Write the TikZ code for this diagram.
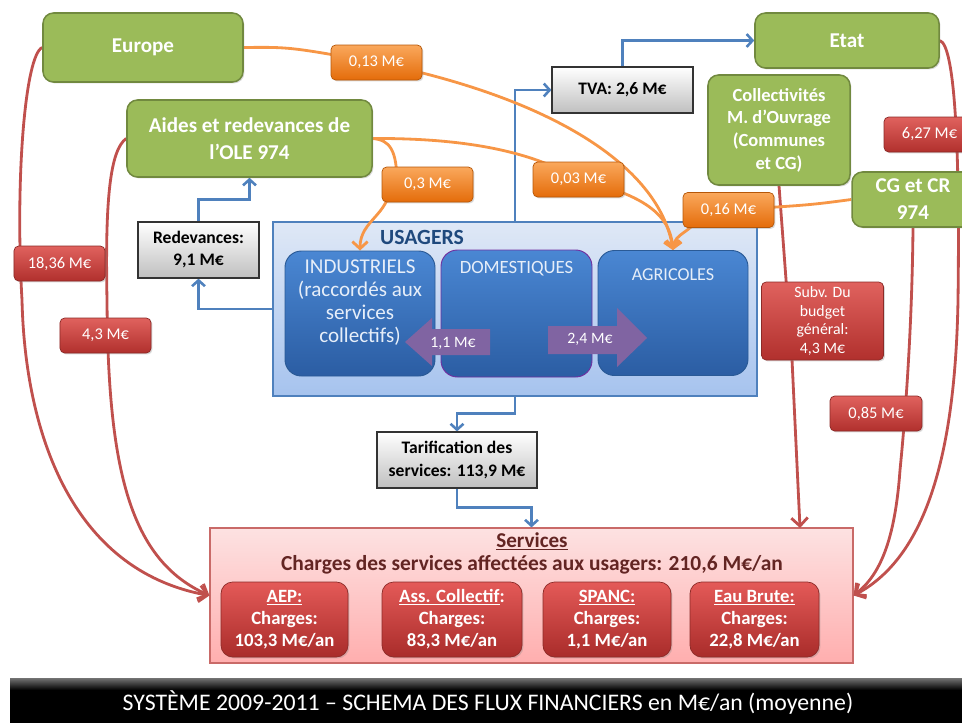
\documentclass[tikz,border=0pt]{standalone}
\usepackage{fontspec}
\setmainfont{Carlito}
\usetikzlibrary{arrows.meta,shadows}
\definecolor{vert}{HTML}{9BBB59}
\definecolor{vertbord}{HTML}{71893F}
\definecolor{orhaut}{HTML}{FAA85C}
\definecolor{orbas}{HTML}{E46C0A}
\definecolor{orbord}{HTML}{B65708}
\definecolor{rghaut}{HTML}{E0625E}
\definecolor{rgbas}{HTML}{B1302D}
\definecolor{rgbord}{HTML}{8C2B28}
\definecolor{srvhaut}{HTML}{E45A58}
\definecolor{srvbas}{HTML}{A92C2A}
\definecolor{fluxr}{HTML}{C0504D}
\definecolor{fluxo}{HTML}{F79646}
\definecolor{fluxb}{HTML}{4F81BD}
\definecolor{bleuhaut}{HTML}{4A87D3}
\definecolor{bleubas}{HTML}{2B5DA3}
\definecolor{bleubord}{HTML}{2A5A96}
\definecolor{bleutexte}{HTML}{E6EEF9}
\definecolor{violetf}{HTML}{8064A2}
\definecolor{violetbord}{HTML}{7030A0}
\definecolor{usghaut}{HTML}{DFE8F6}
\definecolor{usgbas}{HTML}{A6C3EE}
\definecolor{fondhaut}{HTML}{FDE2E2}
\definecolor{fondbas}{HTML}{FFAEAE}
\definecolor{titrebleu}{HTML}{1F497D}
\definecolor{titrerouge}{HTML}{632523}
\pgfdeclarelayer{fond}
\pgfdeclarelayer{liens}
\pgfsetlayers{fond,liens,main}
\begin{document}
\begin{tikzpicture}[x=0.03cm, y=-0.03cm,
  ombre/.style={drop shadow={opacity=0.3,shadow xshift=1.2pt,shadow yshift=-1.2pt}},
  vertbox/.style={ombre, draw=vertbord, line width=1.3pt, fill=vert, rounded corners=9pt, text=white, align=center, inner sep=0pt, font=\fontsize{18}{23}\selectfont\bfseries},
  orlbl/.style={ombre, draw=orbord, line width=0.6pt, top color=orhaut, bottom color=orbas, rounded corners=4pt, text=white, inner sep=0pt, minimum width=2.73cm, minimum height=1.05cm, font=\fontsize{14}{16}\selectfont},
  rglbl/.style={ombre, draw=rgbord, line width=0.6pt, top color=rghaut, bottom color=rgbas, rounded corners=4pt, text=white, align=center, inner sep=0pt, minimum width=2.73cm, minimum height=1.05cm, font=\fontsize{14}{16}\selectfont},
  grisbox/.style={ombre, draw=black!80, line width=1pt, top color=white, bottom color=black!25, align=center, inner sep=0pt, font=\fontsize{15}{18.8}\selectfont\bfseries},
  bleubox/.style={draw=bleubord, line width=0.8pt, top color=bleuhaut, bottom color=bleubas, rounded corners=14pt, minimum width=4.5cm, minimum height=3.75cm},
  srvbox/.style={ombre, draw=rgbord, line width=0.6pt, top color=srvhaut, bottom color=srvbas, rounded corners=10pt, text=white, align=center, inner sep=0pt, minimum height=2.25cm, font=\fontsize{16}{18.8}\selectfont\bfseries},
  fluxbleu/.style={draw=fluxb, line width=2.2pt, -{Straight Barb[length=5pt,width=11pt]}},
  fluxrouge/.style={draw=fluxr, line width=2.4pt, -{Straight Barb[length=7pt,width=14pt]}},
  fluxorange/.style={draw=fluxo, line width=2.4pt, -{Straight Barb[length=6pt,width=13pt]}}]
\useasboundingbox (0,0) rectangle (962,723);
\begin{pgfonlayer}{fond}
\node[draw=fluxb, line width=1pt, top color=usghaut, bottom color=usgbas, minimum width=14.52cm, minimum height=5.22cm, inner sep=0pt] (usagers) at (515,309) {};
\node[ombre, draw=fluxr!85, line width=1pt, top color=fondhaut, bottom color=fondbas, minimum width=19.29cm, minimum height=4.05cm, inner sep=0pt] (services) at (531.5,595.5) {};
\end{pgfonlayer}
\node[vertbox, minimum width=6cm, minimum height=2.07cm] (europe) at (143,47.5) {Europe};
\node[vertbox, minimum width=7.35cm, minimum height=2.31cm] (aides) at (249.5,138.5) {Aides et redevances de\\l’OLE 974};
\node[vertbox, minimum width=5.52cm, minimum height=1.65cm] (etat) at (847,40.5) {Etat};
\node[vertbox, minimum width=4.26cm, minimum height=3.3cm, font=\fontsize{15.8}{19.3}\selectfont\bfseries] (collect) at (779,130) {Collectivités\\M. d’Ouvrage\\(Communes\\et CG)};
\node[vertbox, minimum width=3.66cm, minimum height=1.65cm] (cgcr) at (913,199.5) {CG et CR\\974};
\node[orlbl] (o13) at (376.5,62.5) {0,13 M€};
\node[orlbl] (o3) at (427.5,184.5) {0,3 M€};
\node[orlbl] (o03) at (578.5,179.5) {0,03 M€};
\node[orlbl] (o16) at (728.5,210) {0,16 M€};
\node[grisbox, minimum width=4.23cm, minimum height=1.38cm] (tva) at (622.5,90) {TVA: 2,6 M€};
\node[grisbox, minimum width=3.63cm, minimum height=1.68cm] (redev) at (198.5,250) {Redevances:\\9,1 M€};
\node[grisbox, minimum width=4.8cm, minimum height=1.68cm] (tarif) at (457,460) {Tarification des\\services: 113,9 M€};
\node[font=\fontsize{18.5}{20}\selectfont\bfseries, text=titrebleu] (usgtitre) at (422,237) {USAGERS};
\node[bleubox] (indus) at (360,313.5) {};
\node[bleubox, draw=violetbord, minimum width=4.53cm, minimum height=3.81cm] (domes) at (516.5,313.5) {};
\node[bleubox] (agri) at (673,313) {};
\node[text=bleutexte, align=center, font=\fontsize{18}{19.6}\selectfont] (indusT) at (360,303) {INDUSTRIELS\\(raccordés aux\\services\\collectifs)};
\node[text=bleutexte, font=\fontsize{16}{18}\selectfont] (domesT) at (516.5,269) {DOMESTIQUES};
\node[text=bleutexte, font=\fontsize{15.5}{18}\selectfont] (agriT) at (673,275) {AGRICOLES};
\fill[violetf] (405,342) -- (432,318) -- (432,329) -- (490,329) -- (490,355) -- (432,355) -- (432,366) -- cycle;
\node[text=white, font=\fontsize{13.5}{15}\selectfont] (v11) at (453,343) {1,1 M€};
\fill[violetf] (548,326) -- (617,326) -- (617,308) -- (647,338) -- (617,367) -- (617,354) -- (548,354) -- cycle;
\node[text=white, font=\fontsize{13.5}{15}\selectfont] (v24) at (590,339) {2,4 M€};
\node[text=titrerouge, font=\fontsize{18}{20}\selectfont\bfseries] (srvT) at (532,541) {\underline{Services}};
\node[text=titrerouge, font=\fontsize{18.3}{20}\selectfont\bfseries] (srvC) at (532,565) {Charges des services affectées aux usagers: 210,6 M€/an};
\node[srvbox, minimum width=3.81cm] (aep) at (284.5,619.5) {\underline{AEP:}\\Charges:\\103,3 M€/an};
\node[srvbox, minimum width=4.2cm] (asscol) at (452,619.5) {\underline{Ass. Collectif}:\\Charges:\\83,3 M€/an};
\node[srvbox, minimum width=3.84cm] (spanc) at (607,619.5) {\underline{SPANC:}\\Charges:\\1,1 M€/an};
\node[srvbox, minimum width=3.87cm] (eaubrute) at (754.5,619.5) {\underline{Eau Brute:}\\Charges:\\22,8 M€/an};
\node[rglbl] (r1836) at (59.5,263.5) {18,36 M€};
\node[rglbl] (r43) at (105.5,335.5) {4,3 M€};
\node[rglbl] (r627) at (929.5,134.5) {6,27 M€};
\node[rglbl, minimum width=3.66cm, minimum height=2.34cm, font=\fontsize{13.5}{16}\selectfont] (subv) at (822.5,321) {Subv. Du\\budget\\général:\\4,3 M€};
\node[rglbl, minimum width=2.76cm] (r085) at (876,413.5) {0,85 M€};
\coordinate (subvIn) at (800,528);
\fill[black] (10,678) rectangle (975,723);
\shade[top color=black!55, bottom color=black] (10,678) rectangle (975,690);
\node[text=white, font=\fontsize{20.3}{22}\selectfont] (titre) at (488,702) {SYSTÈME 2009-2011 – SCHEMA DES FLUX FINANCIERS en M€/an (moyenne)};
\begin{pgfonlayer}{liens}
\draw[fluxbleu] (usagers.west) -| (redev.south);
\draw[fluxbleu] (redev.north) -- ++(0,-22) -| (aides.south);
\draw[fluxbleu] (usagers.north) |- (tva.west);
\draw[fluxbleu] (tva.north) |- (etat.west);
\draw[fluxbleu] (usagers.south) -- ++(0,17) -| (tarif.north);
\draw[fluxbleu] (tarif.south) -- ++(0,19) -| (services.north);
\draw[fluxrouge] (europe.west) .. controls (25,55) and (15,180) .. (22,300) .. controls (25,430) and (70,570) .. (services.west);
\draw[fluxrouge] (aides.west) .. controls (110,150) and (105,200) .. (107,300) .. controls (108,470) and (130,560) .. (services.west);
\draw[fluxrouge] (etat.east) .. controls (955,45) and (960,150) .. (958,300) .. controls (955,470) and (920,560) .. (services.east);
\draw[fluxrouge] (cgcr.south) .. controls (912,330) and (905,420) .. (900,470) .. controls (895,540) and (880,575) .. (services.east);
\draw[fluxrouge, -] (collect.south) -- ([xshift=-26pt]subv.south);
\draw[fluxrouge] ([xshift=-26pt]subv.south) -- (subvIn);
\draw[fluxorange, -] (europe.east) .. controls (290,47) .. (o13.center);
\draw[fluxorange] (o13.center) .. controls (560,100) and (660,170) .. (agri.north);
\draw[fluxorange, -] (aides.east) .. controls (460,138) and (530,150) .. (o03.center);
\draw[fluxorange] (o03.center) .. controls (645,195) and (670,215) .. (agri.north);
\draw[fluxorange, -] (aides.east) .. controls (390,140) and (397,150) .. ([xshift=-26pt]o3.center);
\draw[fluxorange] ([xshift=-32pt]o3.center) .. controls (390,215) and (360,220) .. (indus.north);
\draw[fluxorange, -] (cgcr.west) .. controls (810,205) .. (o16.center);
\draw[fluxorange] ([xshift=-20pt]o16.center) .. controls (690,235) and (675,232) .. (agri.north);
\end{pgfonlayer}
\end{tikzpicture}
\end{document}
